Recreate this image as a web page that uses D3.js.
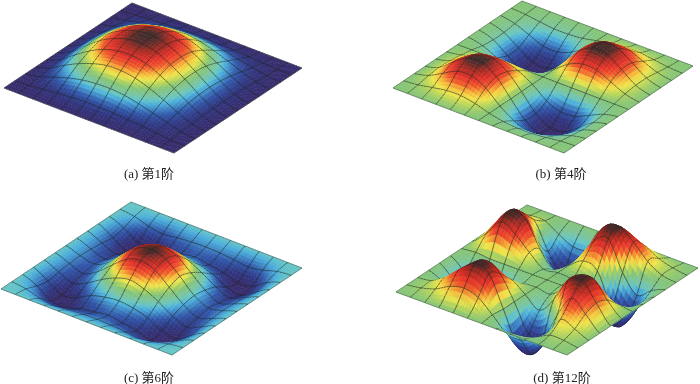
<!DOCTYPE html>
<html>
<head>
<meta charset="utf-8">
<script src="https://cdn.jsdelivr.net/npm/d3@7"></script>
<style>
  html, body { margin: 0; background: #fff; }
  svg { display: block; }
  .caption { font-family: "Liberation Serif", "Noto Sans CJK SC", serif; font-size: 13px; fill: #222; }
</style>
</head>
<body>
<script>
// Heights: rows go from the top corner towards the left corner,
// columns from the top corner towards the right corner
const heightA = [
  [0,0,0,0,0,0,0,0,0,0,0,0,0],
  [0,.01,.04,.06,.08,.09,.09,.08,.07,.05,.03,.01,0],
  [0,.05,.13,.20,.26,.29,.30,.28,.23,.16,.09,.03,0],
  [0,.08,.23,.37,.47,.53,.54,.50,.41,.29,.16,.05,0],
  [0,.11,.32,.52,.66,.74,.76,.71,.58,.41,.23,.07,0],
  [0,.14,.39,.63,.81,.91,.93,.86,.71,.50,.28,.08,0],
  [0,.15,.42,.68,.87,.98,1,.93,.76,.54,.30,.09,0],
  [0,.15,.41,.67,.85,.96,.98,.91,.74,.53,.29,.09,0],
  [0,.13,.37,.59,.76,.85,.87,.81,.66,.47,.26,.08,0],
  [0,.10,.29,.46,.59,.67,.68,.63,.52,.37,.20,.06,0],
  [0,.06,.18,.29,.37,.41,.42,.39,.32,.23,.13,.04,0],
  [0,.02,.06,.10,.13,.15,.15,.14,.11,.08,.05,.01,0],
  [0,0,0,0,0,0,0,0,0,0,0,0,0]
];
const heightB = [
  [0,0,0,0,0,0,0,0,0,0,0,0,0],
  [0,-.03,-.10,-.16,-.16,-.11,0,.11,.16,.16,.10,.03,0],
  [0,-.10,-.31,-.52,-.54,-.35,0,.35,.54,.52,.31,.10,0],
  [0,-.16,-.52,-.85,-.89,-.58,0,.58,.89,.85,.52,.16,0],
  [0,-.16,-.54,-.89,-.94,-.61,0,.61,.94,.89,.54,.16,0],
  [0,-.11,-.35,-.58,-.61,-.40,0,.40,.61,.58,.35,.11,0],
  [0,0,0,0,0,0,0,0,0,0,0,0,0],
  [0,.08,.26,.43,.45,.30,0,-.40,-.61,-.58,-.35,-.11,0],
  [0,.14,.47,.78,.82,.53,0,-.61,-.94,-.89,-.54,-.16,0],
  [0,.16,.56,.90,.94,.61,0,-.58,-.89,-.85,-.52,-.16,0],
  [0,.13,.41,.68,.71,.46,0,-.35,-.54,-.52,-.31,-.10,0],
  [0,.05,.15,.24,.25,.16,0,-.11,-.16,-.16,-.10,-.03,0],
  [0,0,0,0,0,0,0,0,0,0,0,0,0]
];
const heightC = [
  [0,0,0,0,0,0,0,0,0,0,0,0,0],
  [0,-.06,-.2,-.28,-.22,-.18,-.16,-.18,-.22,-.28,-.2,-.06,0],
  [0,-.2,-.52,-.58,-.42,-.34,-.26,-.34,-.42,-.58,-.52,-.2,0],
  [0,-.28,-.58,-.48,-.22,-.08,-.02,-.08,-.22,-.48,-.58,-.28,0],
  [0,-.22,-.42,-.22,.08,.33,.45,.33,.08,-.22,-.42,-.22,0],
  [0,-.18,-.34,-.08,.33,.72,.86,.72,.33,-.08,-.34,-.18,0],
  [0,-.16,-.26,-.02,.45,.86,1,.86,.45,-.02,-.26,-.16,0],
  [0,-.18,-.34,-.08,.33,.72,.86,.72,.33,-.08,-.34,-.18,0],
  [0,-.22,-.42,-.22,.08,.33,.45,.33,.08,-.22,-.42,-.22,0],
  [0,-.28,-.58,-.48,-.22,-.08,-.02,-.08,-.22,-.48,-.58,-.28,0],
  [0,-.2,-.52,-.58,-.42,-.34,-.26,-.34,-.42,-.58,-.52,-.2,0],
  [0,-.06,-.2,-.28,-.22,-.18,-.16,-.18,-.22,-.28,-.2,-.06,0],
  [0,0,0,0,0,0,0,0,0,0,0,0,0]
];
const heightD = [
  [0,0,0,0,0,0,0,0,0,0,0,0,0],
  [0,.06,.06,-.18,-.38,-.34,.04,.38,.50,.40,.18,.06,0],
  [0,.18,.30,-.45,-1.0,-.90,0,.85,1.0,.70,.30,.06,0],
  [0,.40,.70,.05,-.75,-.75,0,.65,.85,.05,-.45,-.18,0],
  [0,.50,1.0,.85,.15,-.30,0,.28,.15,-.75,-1.0,-.38,0],
  [0,.38,.85,.65,.28,-.05,0,-.05,-.30,-.75,-.90,-.34,0],
  [0,.04,0,0,0,0,0,0,0,0,0,.04,0],
  [0,-.34,-.90,-.75,-.30,-.05,0,-.05,.28,.65,.85,.38,0],
  [0,-.38,-1.0,-.75,.15,.28,0,-.30,.15,.85,1.0,.50,0],
  [0,-.18,-.45,.05,.85,.65,0,-.75,-.75,.05,.70,.40,0],
  [0,.06,.30,.70,1.0,.85,0,-.90,-1.0,-.45,.30,.18,0],
  [0,.06,.18,.40,.50,.38,.04,-.34,-.38,-.18,.06,.06,0],
  [0,0,0,0,0,0,0,0,0,0,0,0,0]
];
const captions = ["(a) 第1阶", "(b) 第4阶", "(c) 第6阶", "(d) 第12阶"];

// Colour ramp, position between lowest and highest point of a surface
const rampStops = [0, .1, .2, .32, .37, .43, .5, .56, .62, .69, .76, .84, .93, 1];
const rampColors = ["#352a6b", "#2f3580", "#2f55a8", "#4aaedc", "#66c6c4", "#7cc49a", "#84c476",
                    "#b7d55a", "#f0e54a", "#f6b338", "#ee5a2a", "#e4322a", "#a52a22", "#452a2a"];
const ramp = d3.scaleLinear().domain(rampStops).range(rampColors).clamp(true);

var svg = d3.select("body").append("svg")
            .attr("width", 700)
            .attr("height", 384)
            .style("filter", "blur(0.35px)");

// Catmull-Rom through four values
function cubic(p0, p1, p2, p3, t) {
  return p1 + 0.5 * t * (p2 - p0 + t * (2 * p0 - 5 * p1 + 4 * p2 - p3 + t * (3 * (p1 - p2) + p3 - p0)));
}

// Height between the grid nodes, so the mesh cells are smooth
function surfaceAt(grid, a, b) {
  const n = grid.length - 1;
  const at = (i, j) => grid[Math.max(0, Math.min(n, j))][Math.max(0, Math.min(n, i))];
  const i = Math.min(n - 1, Math.floor(a)), j = Math.min(n - 1, Math.floor(b));
  const rows = [-1, 0, 1, 2].map(k =>
    cubic(at(i - 1, j + k), at(i, j + k), at(i + 1, j + k), at(i + 2, j + k), a - i));
  return cubic(rows[0], rows[1], rows[2], rows[3], b - j);
}

function drawSurface(grid, top, right, left, lift, caption, captionX, captionY) {
  const n = grid.length - 1;
  const sub = 5;
  const m = n * sub;

  // Node index to screen offset along both plate edges, plus the height
  const ux = d3.scaleLinear().domain([0, m]).range([0, right[0] - top[0]]);
  const uy = d3.scaleLinear().domain([0, m]).range([0, right[1] - top[1]]);
  const vx = d3.scaleLinear().domain([0, m]).range([0, left[0] - top[0]]);
  const vy = d3.scaleLinear().domain([0, m]).range([0, left[1] - top[1]]);
  const zy = d3.scaleLinear().domain([0, 1]).range([0, -lift]);
  const tone = d3.scaleLinear().domain(d3.extent(grid.flat())).range([0, 1]);

  const zAt = (a, b) => surfaceAt(grid, a / sub, b / sub);
  const pt = (a, b) => [top[0] + ux(a) + vx(b), top[1] + uy(a) + vy(b) + zy(zAt(a, b))];
  const line = d3.line();

  // Back to front, each cell followed by the mesh lines on its back edges
  const marks = [];
  for (let b = 0; b < m; b++) {
    for (let a = 0; a < m; a++) {
      const z = (zAt(a, b) + zAt(a + 1, b) + zAt(a, b + 1) + zAt(a + 1, b + 1)) / 4;
      marks.push({ d: line([pt(a, b), pt(a + 1, b), pt(a + 1, b + 1), pt(a, b + 1)]) + "Z", fill: ramp(tone(z)) });
      if (b % sub == 0) marks.push({ d: line([pt(a, b), pt(a + 1, b)]), edge: b == 0 });
      if (a % sub == 0) marks.push({ d: line([pt(a, b), pt(a, b + 1)]), edge: a == 0 });
      if (a == m - 1) marks.push({ d: line([pt(m, b), pt(m, b + 1)]), edge: true });
      if (b == m - 1) marks.push({ d: line([pt(a, m), pt(a + 1, m)]), edge: true });
    }
  }

  svg.append("g").selectAll("path")
     .data(marks)
     .join("path")
     .attr("d", d => d.d)
     .attr("fill", d => d.fill || "none")
     .attr("stroke", d => d.fill || (d.edge ? "#4a5a52" : "#1c2420"))
     .attr("stroke-width", d => d.fill ? 0.5 : 0.75)
     .attr("stroke-opacity", d => d.fill ? 1 : 0.8);

  svg.append("text")
     .attr("class", "caption")
     .attr("x", captionX)
     .attr("y", captionY)
     .attr("text-anchor", "middle")
     .text(caption);
}

drawSurface(heightA, [132, 3], [302, 68], [4, 88], 42, captions[0], 149, 178);
drawSurface(heightB, [522, 1], [693, 66], [393, 88], 27, captions[1], 561, 178);
drawSurface(heightC, [131, 202], [302, 268], [1, 289], 29, captions[2], 149, 382);
drawSurface(heightD, [527, 205], [698, 268], [396, 292], 35, captions[3], 562, 382);
</script>
</body>
</html>
